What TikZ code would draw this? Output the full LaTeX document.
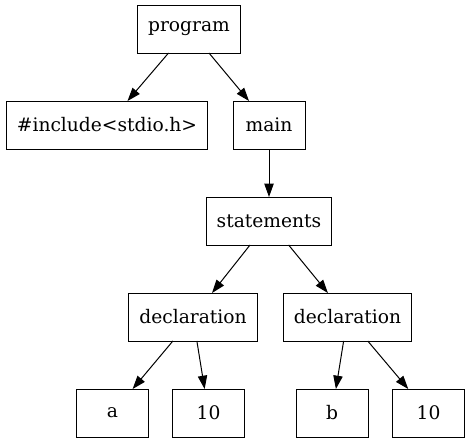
\documentclass[tikz,border=0pt]{standalone}
\usepackage{fontspec}
\setmainfont{DejaVu Serif}
\usepackage{tikz}
\usetikzlibrary{arrows.meta}

\begin{document}
\begin{tikzpicture}[x=0.75pt,y=-0.75pt,>={Triangle[length=10pt,width=7pt]},
  tnode/.style={draw,line width=0.75pt,minimum width=54pt,minimum height=36pt,inner xsep=8pt,outer sep=0pt,
    font=\fontsize{14}{17}\selectfont}]
  \useasboundingbox (0,0) rectangle (470,443);
  % tree nodes
  \node[tnode] (prog) at (189,29) {program};
  \node[tnode] (incl) at (107,125) {\#include<stdio.h>};
  \node[tnode] (main) at (269,125) {main};
  \node[tnode] (stmts) at (269,221) {statements};
  \node[tnode] (declA) at (193,317) {declaration};
  \node[tnode] (declB) at (347.5,317) {declaration};
  \node[tnode] (varA) at (112.5,413) {a};
  \node[tnode] (valA) at (208.5,413) {10};
  \node[tnode] (varB) at (332,413) {b};
  \node[tnode] (valB) at (428.5,413) {10};
  % edges
  \foreach \from/\to in {prog/incl, prog/main, main/stmts, stmts/declA, stmts/declB,
      declA/varA, declA/valA, declB/varB, declB/valB}
    \draw[->,line width=0.75pt] (\from) -- (\to);
\end{tikzpicture}
\end{document}
